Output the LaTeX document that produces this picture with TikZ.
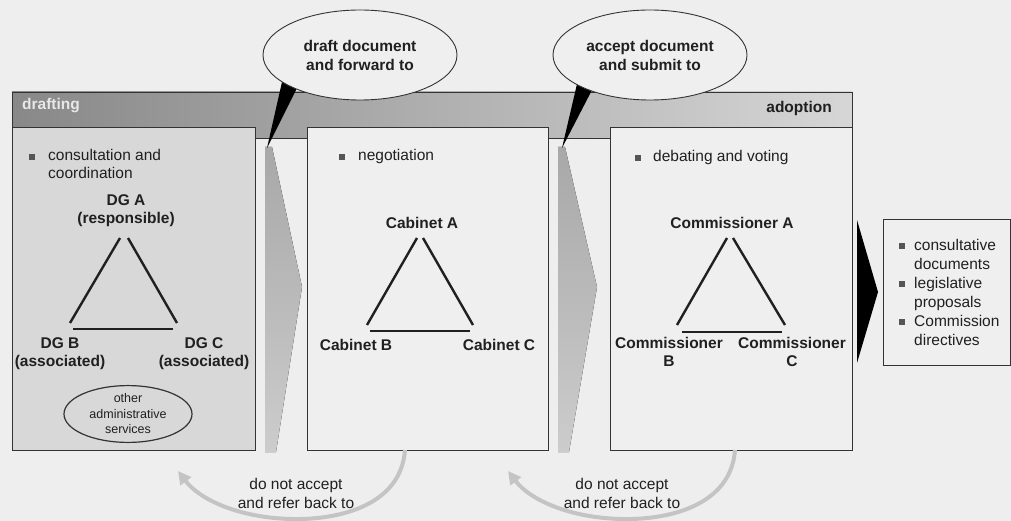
\documentclass[tikz,border=0pt]{standalone}
\usepackage{fontspec}
\setmainfont{Liberation Sans}
\usetikzlibrary{arrows.meta,shapes.geometric}
\definecolor{bgc}{HTML}{EEEEEE}
\definecolor{box1c}{HTML}{D8D8D8}
\definecolor{boxc}{HTML}{EFEFEF}
\definecolor{linec}{HTML}{333333}
\definecolor{txtc}{HTML}{202020}
\definecolor{bulc}{HTML}{555555}
\definecolor{hdl}{HTML}{888888}
\definecolor{hdr}{HTML}{D6D6D6}
\definecolor{chevt}{HTML}{A8A8A8}
\definecolor{chevb}{HTML}{CCCCCC}
\definecolor{arcc}{HTML}{C4C4C4}
\definecolor{draftc}{HTML}{E8E8E8}
\newcommand{\sqb}{\textcolor{bulc}{\rule[1pt]{6pt}{6pt}}}
\tikzset{
  boxstyle/.style={draw=linec, line width=0.9pt},
  lbl/.style={font=\fontsize{15.5}{18}\selectfont\bfseries, text=txtc, align=center, inner sep=0pt},
  plain/.style={font=\fontsize{15.5}{18}\selectfont, text=txtc, align=left, inner sep=0pt},
  tri/.style={draw=txtc, line width=2.4pt},
  chev/.style={top color=chevt, bottom color=chevb, draw=none},
  tail/.style={fill=black, draw=none},
  bubble/.style={ellipse, draw=linec, line width=0.9pt, fill=boxc, minimum width=194pt, minimum height=90pt, inner sep=0pt, align=center, font=\fontsize{15.5}{19}\selectfont\bfseries, text=txtc},
  backarc/.style={draw=arcc, line width=4pt, -{Triangle[length=13pt,width=13pt]}},
  backtxt/.style={font=\fontsize{15.5}{19}\selectfont, text=txtc, align=center, inner sep=0pt}
}
\begin{document}
\begin{tikzpicture}[x=1pt,y=-1pt]
\useasboundingbox (0,0) rectangle (1011,521);
\fill[bgc] (0,0) rectangle (1011,521);
% header band
\draw[draw=linec, line width=0.9pt, left color=hdl, right color=hdr] (12,92) rectangle (852,138);
\node[lbl, anchor=west, text=draftc] (hdraft) at (22,106) {drafting};
\node[lbl, anchor=east] (hadopt) at (832,108) {adoption};
% boxes
\draw[boxstyle, fill=box1c] (12,127) rectangle (255,450);
\draw[boxstyle, fill=boxc] (307,127) rectangle (548,450);
\draw[boxstyle, fill=boxc] (610,127) rectangle (852,450);
% chevrons
\fill[chev] (265,147) -- (272,147) -- (302,287) -- (276,452) -- (265,452) -- cycle;
\fill[chev] (558,147) -- (565,147) -- (597,287) -- (569,452) -- (558,452) -- cycle;
% bubble tails
\fill[tail] (282,82) -- (297,88) -- (267,148) -- cycle;
\fill[tail] (577,84) -- (592,90) -- (562,148) -- cycle;
% bubbles
\node[bubble] (bub1) at (360,55) {draft document\\and forward to};
\node[bubble] (bub2) at (650,55) {accept document\\and submit to};
% bullets in boxes
\node[plain, anchor=west] (b1) at (29,166) {\begin{tabular}{@{}l@{\hspace{13pt}}l@{}}\sqb & consultation and\\ & coordination\end{tabular}};
\node[plain, anchor=west] (b2) at (339,157) {\begin{tabular}{@{}l@{\hspace{13pt}}l@{}}\sqb & negotiation\end{tabular}};
\node[plain, anchor=west] (b3) at (635,158) {\begin{tabular}{@{}l@{\hspace{12pt}}l@{}}\sqb & debating and voting\end{tabular}};
% box 1 triangle
\node[lbl] (dga) at (126,211) {DG A\\(responsible)};
\node[lbl] (dgb) at (60,354) {DG B\\(associated)};
\node[lbl] (dgc) at (204,354) {DG C\\(associated)};
\coordinate (a1l) at (120,238); \coordinate (a1r) at (128,238);
\coordinate (b1t) at (70,323); \coordinate (c1t) at (177,323);
\coordinate (b1b) at (73,329); \coordinate (c1b) at (173,329);
\draw[tri] (a1l) -- (b1t);
\draw[tri] (a1r) -- (c1t);
\draw[tri] (b1b) -- (c1b);
\node[draw=linec, line width=1.2pt, ellipse, minimum width=128pt, minimum height=54pt, inner sep=0pt, align=center, font=\fontsize{12.5}{15.5}\selectfont, text=txtc] (oth) at (128,414) {other\\administrative\\services};
% box 2 triangle
\node[lbl] (caba) at (422,223) {Cabinet A};
\node[lbl] (cabb) at (356,345) {Cabinet B};
\node[lbl] (cabc) at (499,345) {Cabinet C};
\coordinate (a2l) at (417,238); \coordinate (a2r) at (423,238);
\coordinate (b2t) at (367,325); \coordinate (c2t) at (473,325);
\coordinate (b2b) at (370,331); \coordinate (c2b) at (470,331);
\draw[tri] (a2l) -- (b2t);
\draw[tri] (a2r) -- (c2t);
\draw[tri] (b2b) -- (c2b);
% box 3 triangle
\node[lbl] (coma) at (732,223) {Commissioner A};
\node[lbl] (comb) at (669,352) {Commissioner\\B};
\node[lbl] (comc) at (792,352) {Commissioner\\C};
\coordinate (a3l) at (727,238); \coordinate (a3r) at (733,238);
\coordinate (b3t) at (677,325); \coordinate (c3t) at (785,325);
\coordinate (b3b) at (682,332); \coordinate (c3b) at (782,332);
\draw[tri] (a3l) -- (b3t);
\draw[tri] (a3r) -- (c3t);
\draw[tri] (b3b) -- (c3b);
% output
\fill[black] (857,220) -- (878,292) -- (857,363) -- cycle;
\draw[boxstyle, fill=boxc] (883,219) rectangle (1010,365);
\node[plain, anchor=west, font=\fontsize{15.5}{19}\selectfont] (outl) at (899,294) {\begin{tabular}{@{}l@{\hspace{9pt}}l@{}}\sqb & consultative\\ & documents\\ \sqb & legislative\\ & proposals\\ \sqb & Commission\\ & directives\end{tabular}};
% back arcs
\coordinate (s1) at (405,450); \coordinate (e1) at (178,471);
\coordinate (s2) at (735,450); \coordinate (e2) at (508,471);
\draw[backarc] (s1) .. controls (401,505) and (340,520) .. (292,519) .. controls (240,518) and (200,500) .. (e1);
\draw[backarc] (s2) .. controls (731,505) and (670,520) .. (622,519) .. controls (570,518) and (530,500) .. (e2);
\node[backtxt] (bt1) at (296,493) {do not accept\\and refer back to};
\node[backtxt] (bt2) at (622,493) {do not accept\\and refer back to};
\end{tikzpicture}
\end{document}
